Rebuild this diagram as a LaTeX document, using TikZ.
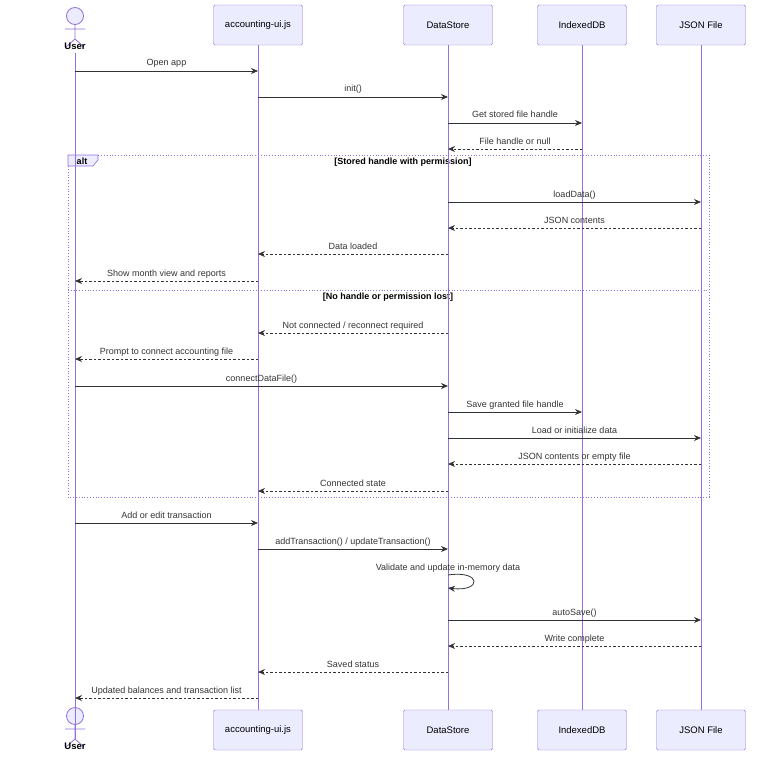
\documentclass[tikz,border=0pt]{standalone}
\usepackage{fontspec}
\setmainfont{Liberation Sans}
\usetikzlibrary{arrows.meta}
\definecolor{boxf}{HTML}{ECECFF}
\definecolor{boxd}{HTML}{9370DB}
\definecolor{ink}{HTML}{333333}
\begin{document}
\begin{tikzpicture}[x=1pt,y=-1pt,font=\fontsize{9}{11}\selectfont,
  actor/.style={draw=boxd,fill=boxf,minimum width=89pt,minimum height=40pt,rounded corners=1.5pt,inner sep=0pt,font=\fontsize{9.5}{11}\selectfont},
  life/.style={draw=boxd,line width=0.9pt},
  msgs/.style={draw=ink,line width=0.8pt,-{Stealth[length=7pt,width=6pt]}},
  msgd/.style={msgs,dash pattern=on 2.5pt off 2pt},
  lbl/.style={text=ink,inner sep=1pt}]
\useasboundingbox (0,0) rectangle (784,765);
% alt frame
\draw[boxd,line width=0.8pt,dotted] (68,155) rectangle (709,497);
\draw[boxd,line width=0.8pt,dotted] (68,290) -- (709,290);
\draw[boxd,fill=boxf,line width=0.6pt] (68,155) -- (98,155) -- (98,160) -- (93,166) -- (68,166) -- cycle;
\node[font=\fontsize{9}{11}\selectfont\bfseries,text=black] (altl) at (82,161) {alt};
\node[font=\fontsize{9}{11}\selectfont\bfseries,text=black] (c1) at (403,162) {[Stored handle with permission]};
\node[font=\fontsize{9}{11}\selectfont\bfseries,text=black] (c2) at (388,297) {[No handle or permission lost]};
% lifelines
\def\xU{75}\def\xA{258}\def\xD{448}\def\xI{582}\def\xJ{701}
\foreach \n/\x/\t in {A/258/accounting-ui.js,D/448/DataStore,I/582/IndexedDB,J/701/JSON File}{
  \node[actor] (\n top) at (\x,25) {\t};
  \node[actor] (\n bot) at (\x,730) {\t};
  \draw[life] (\n top.south) -- (\n bot.north);
}
% user actors
\foreach \n/\y in {top/16,bot/716}{
  \draw[boxd,fill=boxf,line width=0.8pt] (75,\y) circle (8.5);
  \draw[boxd,line width=0.8pt] (75,\y+8.5) -- (75,\y+23) (65,\y+13) -- (85,\y+13) (75,\y+23) -- (66,\y+31) (75,\y+23) -- (84,\y+31);
  \node[font=\fontsize{9.5}{11}\selectfont\bfseries] (U\n) at (75,\y+30) {User};
}
\draw[life] (Utop.south) -- (Ubot.north);
\newcommand\mymsg[5]{%
  \coordinate (ms) at (#2,#1); \coordinate (me) at (#3,#1);
  \draw[#5] (ms) -- (me);
  \node[lbl,anchor=base] (ml) at ($(ms)!0.5!(me)+(0,-5)$) {#4};}
\usetikzlibrary{calc}
\mymsg{71}{\xU}{\xA}{Open app}{msgs}
\mymsg{97}{\xA}{\xD}{init()}{msgs}
\mymsg{123}{\xD}{\xI}{Get stored file handle}{msgs}
\mymsg{149}{\xI}{\xD}{File handle or null}{msgd}
\mymsg{202}{\xD}{\xJ}{loadData()}{msgs}
\mymsg{228}{\xJ}{\xD}{JSON contents}{msgd}
\mymsg{254}{\xD}{\xA}{Data loaded}{msgd}
\mymsg{281}{\xA}{\xU}{Show month view and reports}{msgd}
\mymsg{333}{\xD}{\xA}{Not connected / reconnect required}{msgd}
\mymsg{359}{\xA}{\xU}{Prompt to connect accounting file}{msgd}
\mymsg{386}{\xU}{\xD}{connectDataFile()}{msgs}
\mymsg{412}{\xD}{\xI}{Save granted file handle}{msgs}
\mymsg{438}{\xD}{\xJ}{Load or initialize data}{msgs}
\mymsg{464}{\xJ}{\xD}{JSON contents or empty file}{msgd}
\mymsg{491}{\xD}{\xA}{Connected state}{msgd}
\mymsg{523}{\xU}{\xA}{Add or edit transaction}{msgs}
\mymsg{549}{\xA}{\xD}{addTransaction() / updateTransaction()}{msgs}
\mymsg{620}{\xD}{\xJ}{autoSave()}{msgs}
\mymsg{646}{\xJ}{\xD}{Write complete}{msgd}
\mymsg{672}{\xD}{\xA}{Saved status}{msgd}
\mymsg{698}{\xA}{\xU}{Updated balances and transaction list}{msgd}
% self message
\coordinate (ss) at (448,575); \coordinate (se) at (448,588);
\draw[msgs] (ss) .. controls (482,570) and (482,592) .. (se);
\node[lbl,anchor=base] (sl) at (448,570) {Validate and update in-memory data};
\end{tikzpicture}
\end{document}
